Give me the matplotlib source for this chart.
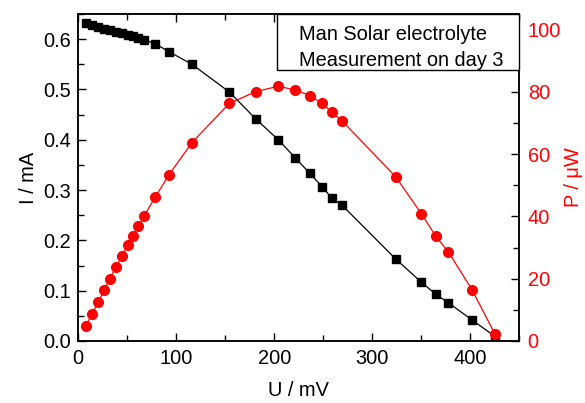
import matplotlib
matplotlib.use("Agg")
import matplotlib.pyplot as plt
from matplotlib.patches import Rectangle
from matplotlib.ticker import MultipleLocator

plt.rcParams['font.family'] = ['Liberation Sans', 'DejaVu Sans']

# Data
U_mV = [7.6, 14.0, 20.4, 26.2, 32.3, 38.5, 44.3, 50.4, 55.5, 61.2, 67.3, 78.3,
        92.6, 116.0, 154.1, 181.3, 204.1, 221.4, 236.4, 248.7, 258.6, 269.1,
        323.9, 350.0, 364.7, 377.6, 401.7, 425.2]
I_mA = [0.632, 0.628, 0.625, 0.621, 0.618, 0.615, 0.612, 0.609, 0.606, 0.603,
        0.599, 0.591, 0.575, 0.550, 0.495, 0.441, 0.400, 0.364, 0.333, 0.307,
        0.284, 0.270, 0.163, 0.117, 0.093, 0.076, 0.042, 0.009]
P_uW = [4.8, 8.7, 12.5, 16.3, 20.0, 23.7, 27.2, 30.8, 33.8, 36.8, 40.2, 46.1,
        53.4, 63.7, 76.3, 80.1, 81.8, 80.6, 78.8, 76.3, 73.5, 70.7,
        52.7, 40.9, 33.7, 28.6, 16.5, 2.2]

legend_lines = ["Man Solar electrolyte", "Measurement on day 3"]

FS = 14.4
fig = plt.figure(figsize=(5.85, 4.03), dpi=100)
ax = fig.add_axes([78.3/585, 62/403, 441/585, 327/403])
ax2 = ax.twinx()

ax.plot(U_mV, I_mA, color='black', lw=0.9, marker='s', ms=6.0,
        mfc='black', mec='black', zorder=3)
ax2.plot(U_mV, P_uW, color='#ff0000', lw=0.9, marker='o', ms=7.0,
         mfc='#ff0000', mec='#ff0000', zorder=3)

ax.set_xlim(0, 450)
ax.set_ylim(0, 0.65)
ax2.set_ylim(0, 105)

ax.xaxis.set_major_locator(MultipleLocator(100))
ax.xaxis.set_minor_locator(MultipleLocator(50))
ax.yaxis.set_major_locator(MultipleLocator(0.1))
ax.yaxis.set_minor_locator(MultipleLocator(0.05))
ax2.yaxis.set_major_locator(MultipleLocator(20))
ax2.yaxis.set_minor_locator(MultipleLocator(10))
ax.yaxis.set_major_formatter(matplotlib.ticker.FormatStrFormatter('%.1f'))

ax.tick_params(axis='x', which='both', direction='in', top=True, bottom=True,
               labelsize=FS, pad=6)
ax.tick_params(axis='y', which='both', direction='in', left=True, right=False,
               labelsize=FS, pad=5)
ax.tick_params(which='major', length=6, width=1.0)
ax.tick_params(which='minor', length=4, width=1.0)
ax2.tick_params(axis='y', which='both', direction='in', right=True,
                labelsize=FS, labelcolor='#ff0000', pad=6)
ax2.tick_params(which='major', length=6, width=1.0)
ax2.tick_params(which='minor', length=4, width=1.0)

for a in (ax, ax2):
    for s in a.spines.values():
        s.set_linewidth(1.1)
        s.set_color('black')

ax.set_xlabel("U / mV", fontsize=FS, labelpad=9)
ax.set_ylabel("I / mA", fontsize=FS, labelpad=4)
ax2.set_ylabel("P / μW", fontsize=FS, color='#ff0000', labelpad=2)

# text-only legend box
ax2.add_patch(Rectangle((0.4506, 0.8287), 0.5494, 0.1713, transform=ax2.transAxes,
                        facecolor='white', edgecolor='black', lw=1.0, zorder=10,
                        clip_on=False))
ax2.text(0.5005, 0.9205, legend_lines[0], transform=ax2.transAxes, fontsize=FS,
         va='baseline', ha='left', zorder=11)
ax2.text(0.5005, 0.842, legend_lines[1], transform=ax2.transAxes, fontsize=FS,
         va='baseline', ha='left', zorder=11)

fig.savefig("out.png", dpi=100)
